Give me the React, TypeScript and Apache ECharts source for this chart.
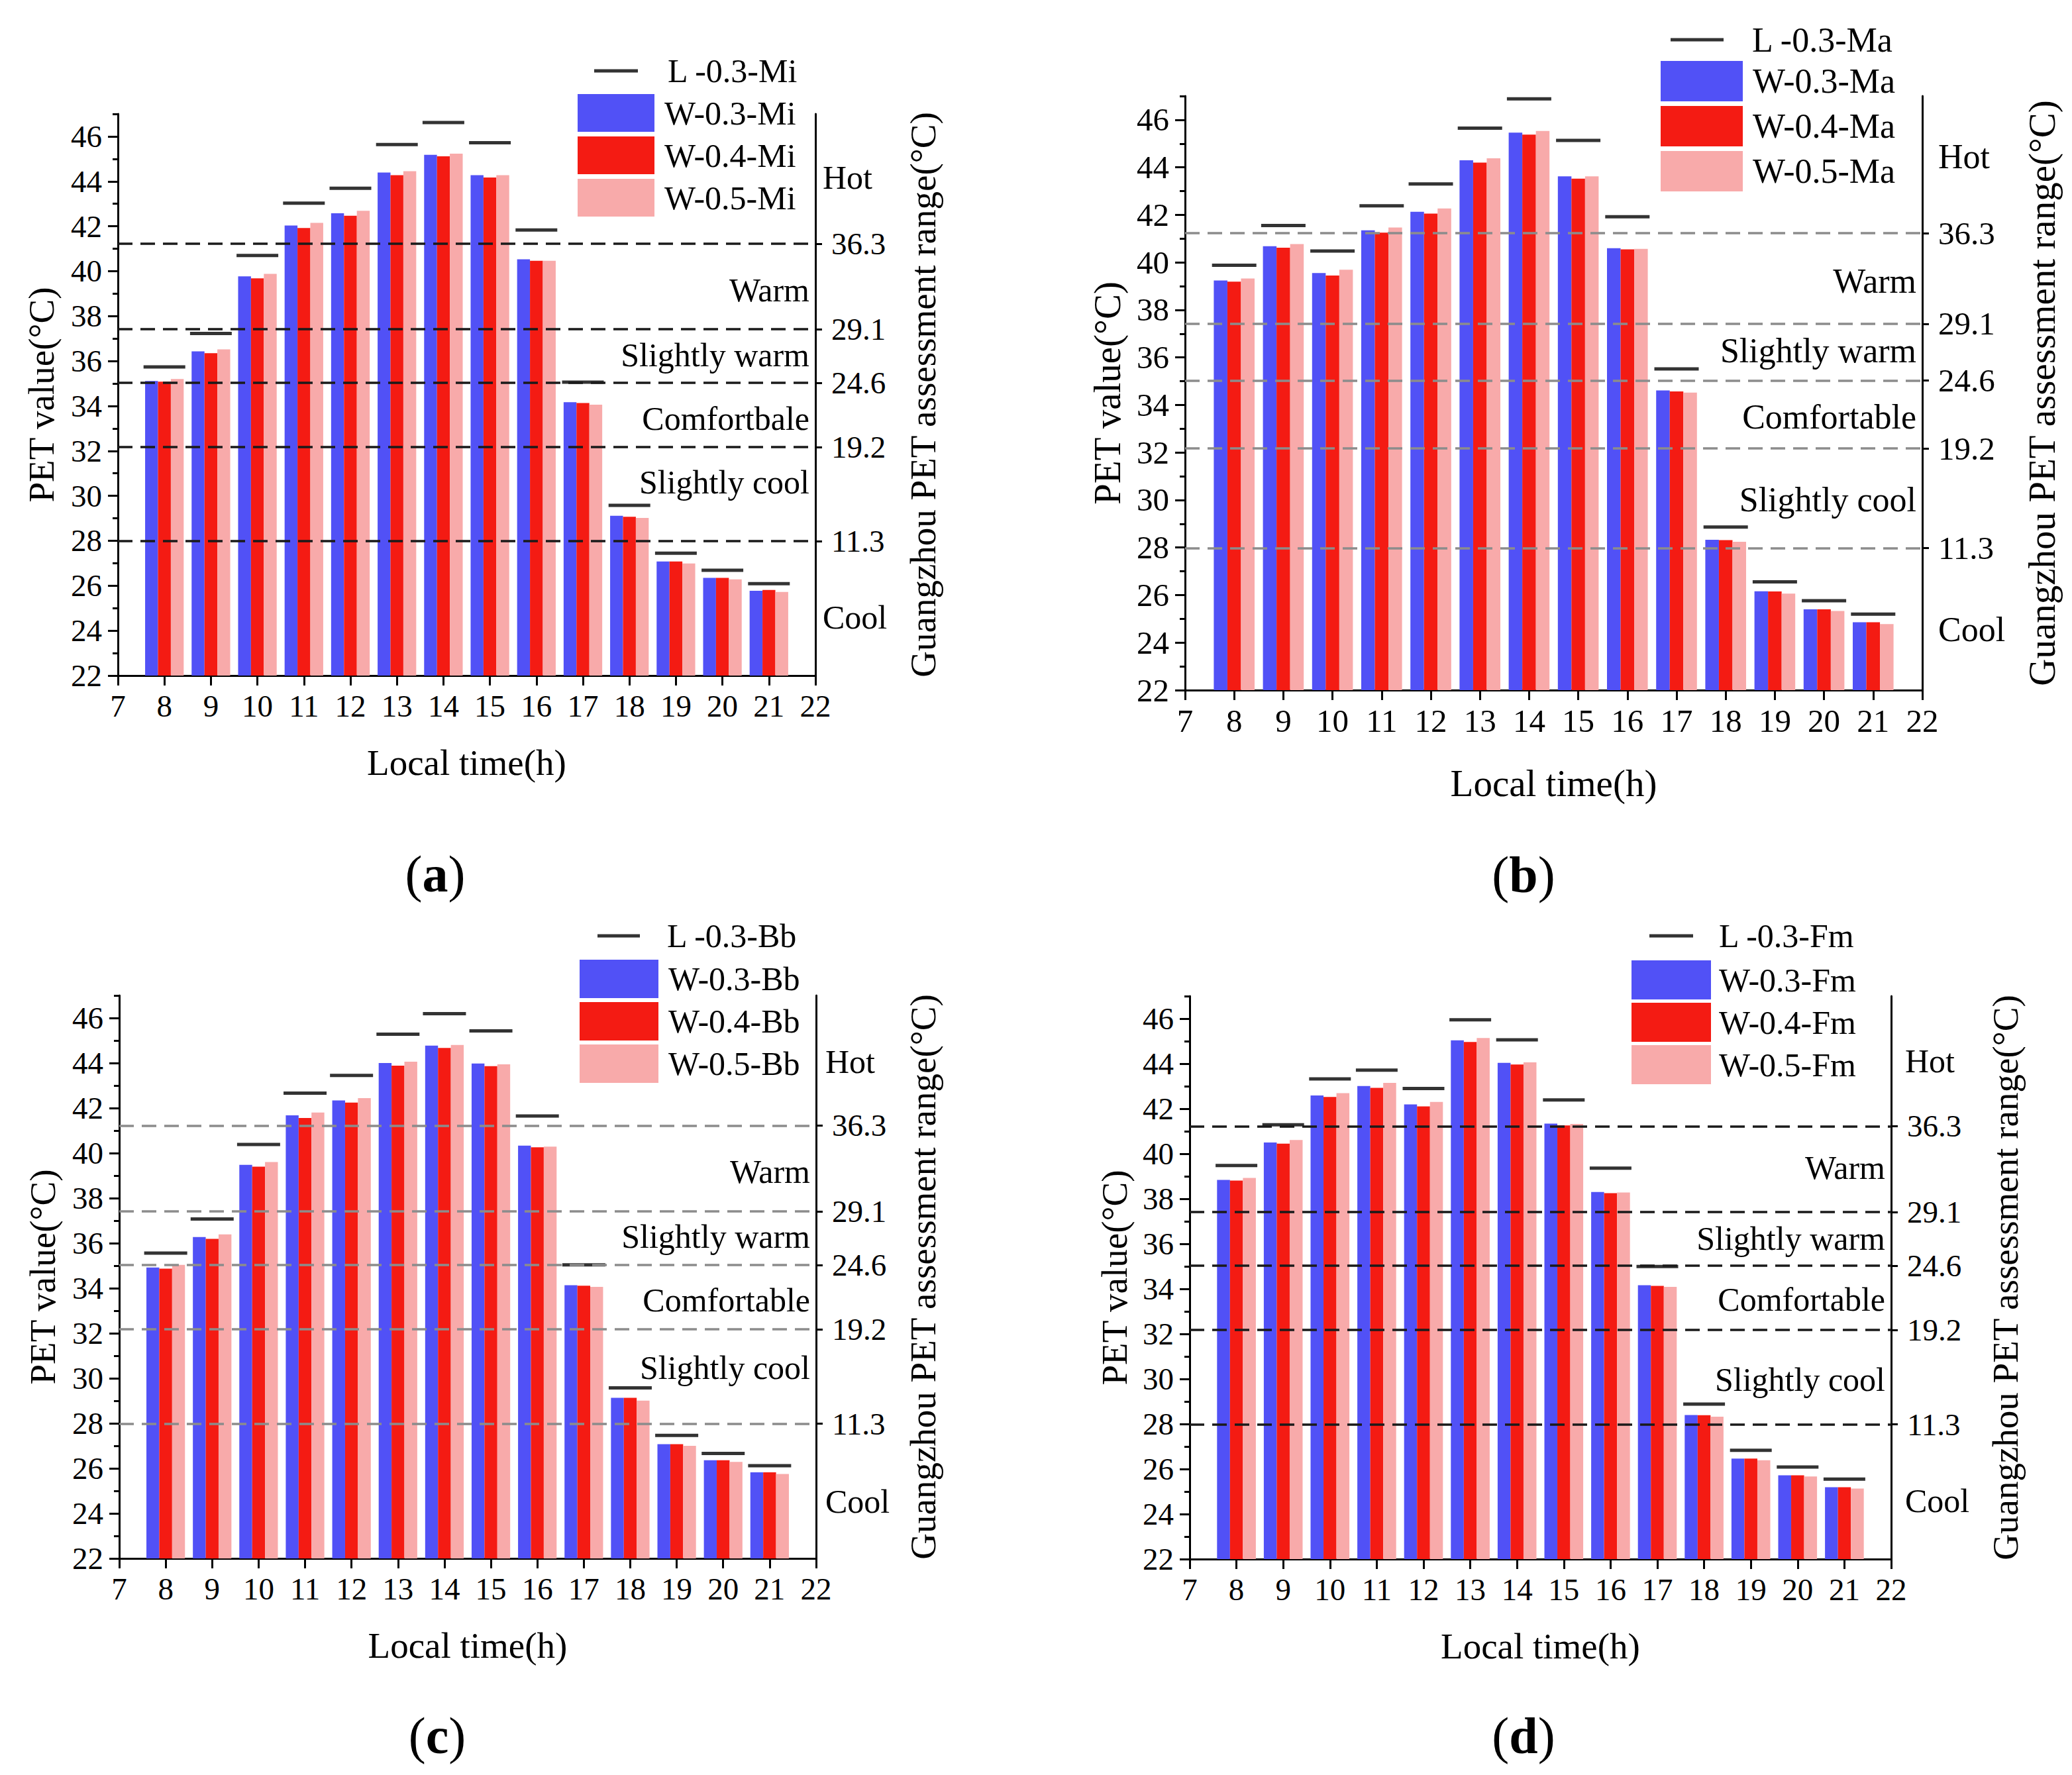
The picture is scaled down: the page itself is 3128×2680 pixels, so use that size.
import * as echarts from "echarts";
import { useEffect, useRef } from "react";

// x categories: 7..22, bars only at 8..21
const HOURS = ["7", "8", "9", "10", "11", "12", "13", "14", "15", "16", "17", "18", "19", "20", "21", "22"];
const EVEN_TICKS = [22, 24, 26, 28, 30, 32, 34, 36, 38, 40, 42, 44, 46];
const ODD_TICKS = [23, 25, 27, 29, 31, 33, 35, 37, 39, 41, 43, 45, 47];
// Guangzhou PET assessment range thresholds (right axis)
const THRESHOLDS = [36.3, 29.1, 24.6, 19.2, 11.3];

// (a) Mi
const MI_L = [35.74, 37.23, 40.7, 43.03, 43.69, 45.64, 46.62, 45.72, 41.83, 35.06, 29.58, 27.45, 26.69, 26.09];
const MI_W3 = [35.11, 36.43, 39.77, 42.03, 42.58, 44.39, 45.18, 44.27, 40.53, 34.17, 29.11, 27.08, 26.35, 25.77];
const MI_W4 = [35.08, 36.35, 39.68, 41.92, 42.47, 44.27, 45.11, 44.17, 40.46, 34.13, 29.07, 27.08, 26.35, 25.81];
const MI_W5 = [35.2, 36.52, 39.88, 42.15, 42.69, 44.45, 45.23, 44.27, 40.46, 34.06, 29.02, 26.99, 26.28, 25.72];
// (b) Ma
const MA_L = [39.88, 41.55, 40.48, 42.38, 43.3, 45.65, 46.88, 45.13, 41.92, 35.52, 28.86, 26.56, 25.76, 25.2];
const MA_W3 = [39.24, 40.68, 39.55, 41.35, 42.13, 44.3, 45.46, 43.62, 40.6, 34.61, 28.33, 26.16, 25.4, 24.86];
const MA_W4 = [39.19, 40.62, 39.45, 41.25, 42.05, 44.2, 45.38, 43.52, 40.55, 34.57, 28.31, 26.15, 25.4, 24.86];
const MA_W5 = [39.32, 40.77, 39.69, 41.47, 42.27, 44.38, 45.53, 43.62, 40.57, 34.52, 28.24, 26.06, 25.33, 24.78];
// (c) Bb
const BB_L = [35.56, 37.07, 40.38, 42.66, 43.45, 45.28, 46.19, 45.43, 41.65, 35.04, 29.57, 27.46, 26.66, 26.12];
const BB_W3 = [34.92, 36.27, 39.48, 41.68, 42.34, 44.0, 44.77, 43.98, 40.33, 34.13, 29.13, 27.07, 26.36, 25.82];
const BB_W4 = [34.87, 36.19, 39.4, 41.56, 42.24, 43.88, 44.67, 43.86, 40.26, 34.11, 29.13, 27.07, 26.36, 25.82];
const BB_W5 = [35.04, 36.39, 39.6, 41.8, 42.44, 44.06, 44.8, 43.94, 40.29, 34.06, 29.01, 27.0, 26.29, 25.75];
// (d) Fm
const FM_L = [39.48, 41.29, 43.32, 43.71, 42.9, 45.95, 45.06, 42.39, 39.36, 34.99, 28.88, 26.83, 26.09, 25.55];
const FM_W3 = [38.84, 40.5, 42.59, 43.01, 42.19, 45.04, 44.04, 41.34, 38.3, 34.16, 28.4, 26.46, 25.72, 25.19];
const FM_W4 = [38.81, 40.45, 42.52, 42.93, 42.1, 44.96, 43.96, 41.26, 38.25, 34.13, 28.39, 26.46, 25.72, 25.19];
const FM_W5 = [38.93, 40.61, 42.69, 43.15, 42.3, 45.14, 44.06, 41.32, 38.28, 34.09, 28.32, 26.39, 25.67, 25.13];

// zone labels, placed at these left-axis values: Hot, Warm, Slightly warm, Comfortable, Slightly cool, Cool
const MI_ZONE_Y = [44.17, 39.16, 36.27, 33.44, 30.61, 24.59];
const MA_ZONE_Y = [44.44, 39.22, 36.28, 33.5, 30.0, 24.56];
const BB_ZONE_Y = [44.06, 39.18, 36.29, 33.47, 30.47, 24.53];
const FM_ZONE_Y = [44.13, 39.39, 36.23, 33.53, 29.96, 24.58];

const FONT = "Liberation Serif";
const BLUE = "#5151F6";
const RED = "#F41B13";
const PINK = "#F8AAAA";

const PANELS = [
  {
    tag: "a", sfx: "Mi", L: MI_L, W3: MI_W3, W4: MI_W4, W5: MI_W5, zoneY: MI_ZONE_Y, comfort: "Comfortbale",
    left: 178, top: 172, width: 1053, height: 848, dash: "#1a1a1a", fs: 47, nameFs: 55, legFs: 50,
    lw: 63, outX: 11, yGap: 88, rGap: 135, xGap: 104,
    lLeg: { left: 897, cy: 107, w: 66, pad: 40 }, wLeg: { left: 872, top: 142, w: 116, h: 57, gap: 7, pad: 10 },
    sub: [657, 1319],
  },
  {
    tag: "b", sfx: "Ma", L: MA_L, W3: MA_W3, W4: MA_W4, W5: MA_W5, zoneY: MA_ZONE_Y, comfort: "Comfortable",
    left: 1789, top: 145, width: 1113, height: 897, dash: "#8c8c8c", fs: 49, nameFs: 57, legFs: 52,
    lw: 67, outX: 24, yGap: 89, rGap: 152, xGap: 112,
    lLeg: { left: 2522, cy: 60, w: 80, pad: 38 }, wLeg: { left: 2507, top: 92, w: 124, h: 61, gap: 7, pad: 10 },
    sub: [2300, 1320],
  },
  {
    tag: "c", sfx: "Bb", L: BB_L, W3: BB_W3, W4: BB_W4, W5: BB_W5, zoneY: BB_ZONE_Y, comfort: "Comfortable",
    left: 180, top: 1503, width: 1052, height: 850, dash: "#8c8c8c", fs: 47, nameFs: 55, legFs: 50,
    lw: 65, outX: 14, yGap: 88, rGap: 134, xGap: 104,
    lLeg: { left: 902, cy: 1413, w: 64, pad: 36 }, wLeg: { left: 875, top: 1449, w: 119, h: 58, gap: 6, pad: 10 },
    sub: [660, 2620],
  },
  {
    tag: "d", sfx: "Fm", L: FM_L, W3: FM_W3, W4: FM_W4, W5: FM_W5, zoneY: FM_ZONE_Y, comfort: "Comfortable",
    left: 1796, top: 1504, width: 1059, height: 850, dash: "#1a1a1a", fs: 47, nameFs: 55, legFs: 50,
    lw: 63, outX: 21, yGap: 86, rGap: 145, xGap: 104,
    lLeg: { left: 2490, cy: 1413, w: 66, pad: 34 }, wLeg: { left: 2463, top: 1450, w: 120, h: 59, gap: 5, pad: 7 },
    sub: [2300, 2620],
  },
];

const pad = (v: number[]) => ["-", ...v, "-"];
const axisLineStyle = { color: "#000", width: 3 };

function buildOption() {
  const grid: any[] = [];
  const xAxis: any[] = [];
  const yAxis: any[] = [];
  const series: any[] = [];
  const legend: any[] = [];

  PANELS.forEach((p, i) => {
    grid.push({ left: p.left, top: p.top, width: p.width, height: p.height });
    xAxis.push({
      type: "category", gridIndex: i, data: HOURS, boundaryGap: false,
      axisLine: { lineStyle: axisLineStyle },
      axisTick: { interval: 0, length: 15, lineStyle: axisLineStyle },
      axisLabel: { interval: 0, fontSize: p.fs, color: "#000", margin: 22, fontFamily: FONT },
      name: "Local time(h)", nameLocation: "middle", nameGap: p.xGap,
      nameTextStyle: { fontSize: p.nameFs, color: "#000", fontFamily: FONT },
    });
    // left axis: major ticks + labels
    yAxis.push({
      type: "value", gridIndex: i, position: "left", min: 22, max: 47, interval: 1,
      axisLine: { show: true, lineStyle: axisLineStyle },
      axisTick: { show: true, customValues: EVEN_TICKS, length: 15, lineStyle: axisLineStyle },
      axisLabel: { customValues: EVEN_TICKS, fontSize: p.fs, color: "#000", margin: 24, fontFamily: FONT },
      splitLine: { show: false },
      name: "PET value(°C)", nameLocation: "middle", nameGap: p.yGap, nameRotate: 90,
      nameTextStyle: { fontSize: p.nameFs, color: "#000", fontFamily: FONT },
    });
    // left axis: minor ticks
    yAxis.push({
      type: "value", gridIndex: i, position: "left", min: 22, max: 47, interval: 1,
      axisLine: { show: false },
      axisTick: { show: true, customValues: ODD_TICKS, length: 8, lineStyle: axisLineStyle },
      axisLabel: { show: false },
      splitLine: { show: false },
    });
    // right axis: assessment range
    yAxis.push({
      type: "value", gridIndex: i, position: "right", min: 0, max: 47.2,
      axisLine: { show: true, lineStyle: axisLineStyle },
      axisTick: { show: true, customValues: THRESHOLDS, length: 10, lineStyle: axisLineStyle },
      axisLabel: {
        customValues: THRESHOLDS, fontSize: p.fs, color: "#000", margin: 24, fontFamily: FONT,
        formatter: (v: number) => v.toFixed(1),
      },
      splitLine: { show: false },
      name: "Guangzhou PET assessment range(°C)", nameLocation: "middle", nameGap: p.rGap, nameRotate: 90,
      nameTextStyle: { fontSize: p.nameFs, color: "#000", fontFamily: FONT },
    });

    const lName = `L -0.3-${p.sfx}`;
    const wNames = [`W-0.3-${p.sfx}`, `W-0.4-${p.sfx}`, `W-0.5-${p.sfx}`];

    series.push({
      type: "line", xAxisIndex: i, yAxisIndex: 3 * i + 2, data: [], z: 1, silent: true,
      markLine: {
        silent: true, symbol: ["none", "none"], label: { show: false },
        lineStyle: { color: p.dash, type: [22, 12], width: 3.5 },
        data: THRESHOLDS.map((v) => ({ yAxis: v })),
      },
    });
    [p.W3, p.W4, p.W5].forEach((vals, k) => {
      series.push({
        type: "bar", name: wNames[k], xAxisIndex: i, yAxisIndex: 3 * i, data: pad(vals),
        barGap: "0%", barCategoryGap: "17%", z: 2, silent: true,
        itemStyle: { color: [BLUE, RED, PINK][k] },
      });
    });
    series.push({
      type: "scatter", name: lName, xAxisIndex: i, yAxisIndex: 3 * i, data: pad(p.L),
      symbol: "rect", symbolSize: [p.lw, 5], z: 3, silent: true,
      itemStyle: { color: "#000" },
    });

    legend.push({
      data: [lName], left: p.lLeg.left, top: p.lLeg.cy - p.legFs / 2, padding: 0,
      icon: "rect", itemWidth: p.lLeg.w, itemHeight: 5, selectedMode: false,
      textStyle: { fontSize: p.legFs, color: "#000", fontFamily: FONT, padding: [0, 0, 0, p.lLeg.pad] },
    });
    legend.push({
      data: wNames, orient: "vertical", left: p.wLeg.left, top: p.wLeg.top, padding: 0,
      icon: "rect", itemWidth: p.wLeg.w, itemHeight: p.wLeg.h, itemGap: p.wLeg.gap, selectedMode: false,
      textStyle: { fontSize: p.legFs, color: "#000", fontFamily: FONT, padding: [0, 0, 0, p.wLeg.pad] },
    });
  });

  return {
    animation: false,
    backgroundColor: "#fff",
    textStyle: { fontFamily: FONT },
    grid, xAxis, yAxis, series, legend,
  };
}

export default function App() {
  const box = useRef<HTMLDivElement>(null);

  useEffect(() => {
    document.body.style.margin = "0";
    if (!box.current) return;
    const c = echarts.init(box.current, undefined, { renderer: "svg" });
    c.setOption(buildOption());

    // zone names and panel tags, placed through the left value axes
    const graphic: any[] = [];
    PANELS.forEach((p, i) => {
      const right = p.left + p.width;
      const names = ["Hot", "Warm", "Slightly warm", p.comfort, "Slightly cool", "Cool"];
      names.forEach((t, k) => {
        const y = c.convertToPixel({ yAxisIndex: 3 * i }, p.zoneY[k]) as number;
        const outside = k === 0 || k === 5;
        graphic.push({
          type: "text", silent: true,
          style: {
            text: t, x: outside ? right + p.outX : right - 9, y,
            align: outside ? "left" : "right", verticalAlign: "middle",
            fontSize: p.fs + 3, fontFamily: FONT, fill: "#000",
          },
        });
      });
      graphic.push({
        type: "text", silent: true,
        style: {
          text: `{p|(}{b|${p.tag}}{p|)}`,
          x: p.sub[0], y: p.sub[1], align: "center", verticalAlign: "middle",
          rich: {
            p: { fontSize: 78, fontFamily: FONT, fontWeight: "normal", fill: "#000" },
            b: { fontSize: 78, fontFamily: FONT, fontWeight: "bold", fill: "#000" },
          },
        },
      });
    });
    c.setOption({ graphic });

    return () => c.dispose();
  }, []);

  return <div ref={box} style={{ width: 3128, height: 2680 }} />;
}
